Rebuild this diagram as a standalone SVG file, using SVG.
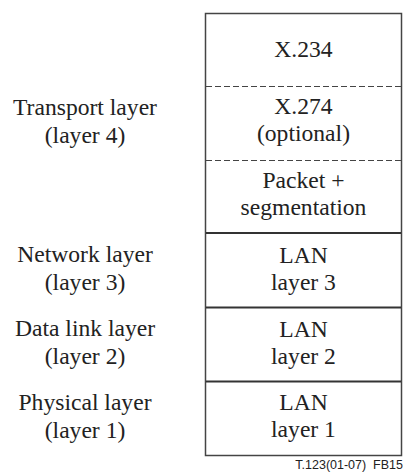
<svg xmlns="http://www.w3.org/2000/svg" width="404" height="474" viewBox="0 0 404 474">
<style>
  .t { font-family: 'Liberation Serif', serif; font-size: 23.6px; fill: #222; text-anchor: middle; }
  .box { fill: none; stroke: #444; stroke-width: 1.5; }
  .solid { stroke: #333; stroke-width: 1.8; fill: none; }
  .dash { stroke: #444; stroke-width: 1.2; stroke-dasharray: 6 3; fill: none; }
  .lbl { font-family: 'Liberation Sans', sans-serif; font-size: 12.5px; fill: #222; text-anchor: end; }
</style>
<rect width="404" height="474" fill="#fff"/>
<g id="stack">
  <rect class="box" x="205.5" y="13.5" width="196" height="442"/>
</g>
<g id="dividers">
  <line class="dash" x1="206" y1="86.5" x2="401" y2="86.5"/>
  <line class="dash" x1="206" y1="160.5" x2="401" y2="160.5"/>
  <line class="solid" x1="206" y1="233" x2="401" y2="233"/>
  <line class="solid" x1="206" y1="307.5" x2="401" y2="307.5"/>
  <line class="solid" x1="206" y1="381.5" x2="401" y2="381.5"/>
</g>
<g id="x234"><text class="t" x="303.5" y="57">X.234</text></g>
<g id="x274"><text class="t" x="303.5" y="114">X.274</text><text class="t" x="303.5" y="141">(optional)</text></g>
<g id="packet"><text class="t" x="303.5" y="188">Packet +</text><text class="t" x="303.5" y="215">segmentation</text></g>
<g id="lan3"><text class="t" x="303.5" y="263">LAN</text><text class="t" x="303.5" y="290">layer 3</text></g>
<g id="lan2"><text class="t" x="303.5" y="336.5">LAN</text><text class="t" x="303.5" y="363.5">layer 2</text></g>
<g id="lan1"><text class="t" x="303.5" y="410">LAN</text><text class="t" x="303.5" y="437">layer 1</text></g>
<g id="transport"><text class="t" x="85" y="115">Transport layer</text><text class="t" x="85" y="143">(layer 4)</text></g>
<g id="network"><text class="t" x="85" y="262">Network layer</text><text class="t" x="85" y="290">(layer 3)</text></g>
<g id="datalink"><text class="t" x="85" y="336">Data link layer</text><text class="t" x="85" y="364">(layer 2)</text></g>
<g id="physical"><text class="t" x="85" y="410">Physical layer</text><text class="t" x="85" y="438">(layer 1)</text></g>
<g id="caption"><text class="lbl" x="403" y="469" xml:space="preserve">T.123(01-07)  FB15</text></g>
</svg>
